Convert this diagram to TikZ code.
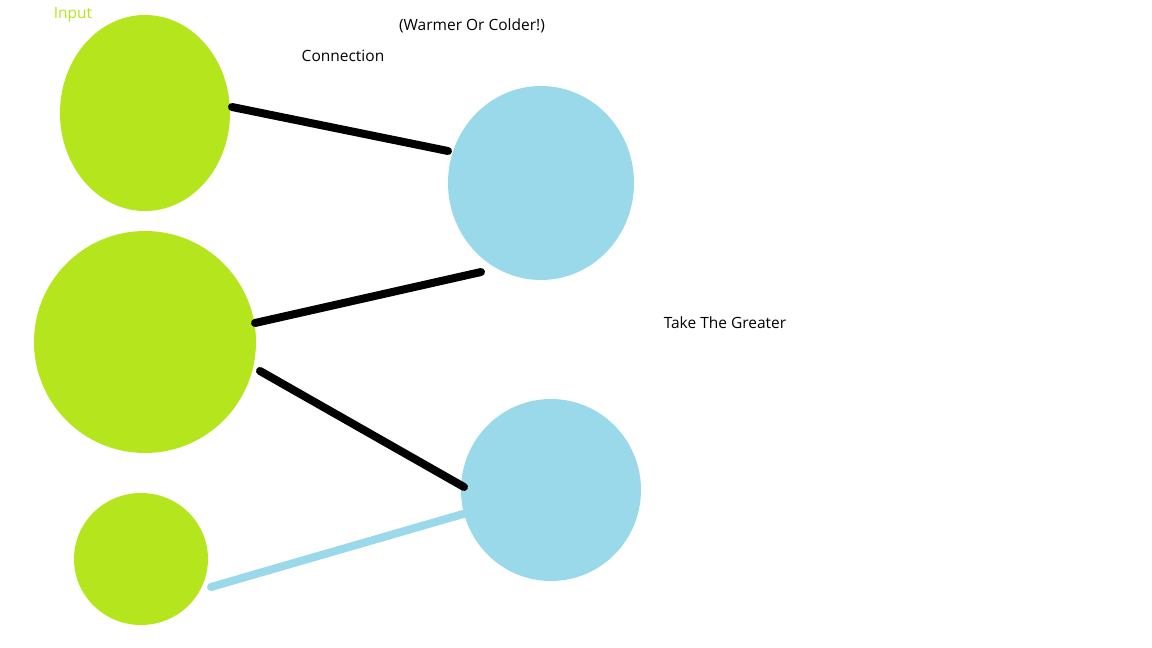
\documentclass[tikz,border=0pt]{standalone}
\usepackage{fontspec}
\setmainfont{Open Sans}
\usetikzlibrary{shapes.geometric}
\definecolor{lime}{HTML}{B5E61D}
\definecolor{sky}{HTML}{99D9EA}
\begin{document}
\begin{tikzpicture}[x=1pt,y=-1pt,
  inblob/.style={ellipse, fill=lime, inner sep=0pt},
  outblob/.style={ellipse, fill=sky, inner sep=0pt},
  wire/.style={line width=8pt, line cap=round, black},
  bluewire/.style={line width=8pt, line cap=round, sky},
  lbl/.style={font=\fontsize{15.5}{18}\selectfont, inner sep=0pt}]
\useasboundingbox (0,0) rectangle (1152,648);
\fill[white] (0,0) rectangle (1152,648);
\node[inblob, minimum width=170pt, minimum height=196pt] (i1) at (145,113) {};
\node[inblob, minimum width=222pt, minimum height=222pt] (i2) at (145,342) {};
\node[inblob, minimum width=134pt, minimum height=132pt] (i3) at (141,559) {};
\node[outblob, minimum width=186pt, minimum height=194pt] (o1) at (541,183) {};
\node[outblob, minimum width=180pt, minimum height=182pt] (o2) at (551,490) {};
\coordinate (a1) at (232,107); \coordinate (b1) at (448,151);
\coordinate (a2) at (255,323); \coordinate (b2) at (481,272);
\coordinate (a3) at (260,371); \coordinate (b3) at (464,487);
\coordinate (a4) at (211,587); \coordinate (b4) at (470,512);
\draw[wire] (a1) -- (b1);
\draw[wire] (a2) -- (b2);
\draw[wire] (a3) -- (b3);
\draw[bluewire] (a4) -- (b4);
\node[lbl, text=lime] (tin) at (73,15) {Input};
\node[lbl] (twc) at (472,26) {(Warmer Or Colder!)};
\node[lbl] (tcon) at (343,56) {Connection};
\node[lbl] (ttg) at (725,323) {Take The Greater};
\end{tikzpicture}
\end{document}
